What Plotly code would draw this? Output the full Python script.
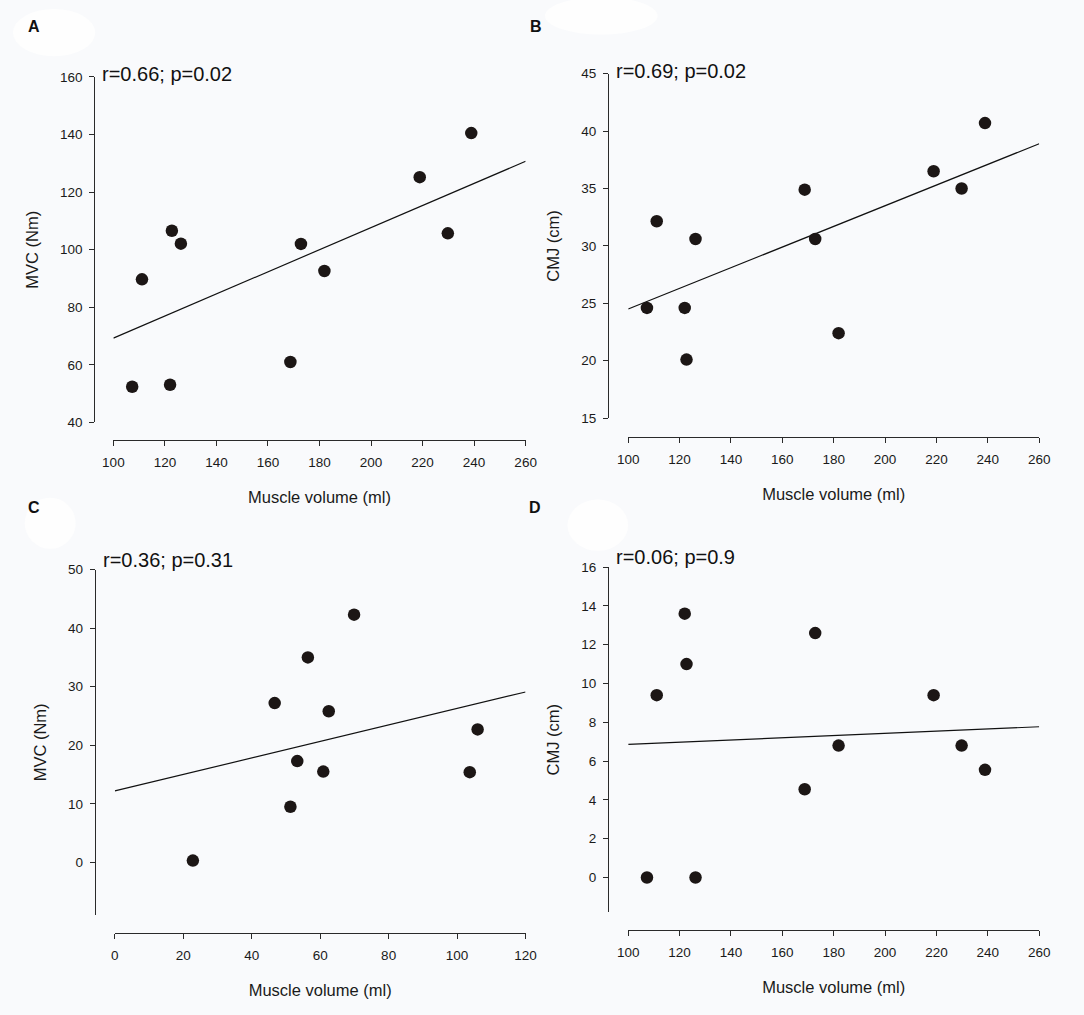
import plotly.graph_objects as go

# muscle volume (ml) shared by panels A, B, D
vol_abd = [107.3, 111.1, 122.0, 122.7, 126.2, 168.7, 172.8, 181.9, 218.9, 229.8, 238.9]
mvc_a = [52.4, 89.7, 53.1, 106.6, 102.1, 61.0, 102.0, 92.6, 125.2, 105.7, 140.5]
cmj_b = [24.6, 32.15, 24.6, 20.1, 30.6, 34.9, 30.6, 22.4, 36.5, 35.0, 40.7]
cmj_d = [0.0, 9.4, 13.6, 11.0, 0.0, 4.55, 12.6, 6.8, 9.4, 6.8, 5.55]

# panel C
vol_c = [22.8, 46.7, 51.3, 53.3, 56.4, 60.9, 62.5, 69.9, 103.7, 106.0]
mvc_c = [0.3, 27.2, 9.5, 17.3, 35.0, 15.5, 25.8, 42.3, 15.4, 22.7]

# regression line end points (x range, fitted y at each end)
fit_x_abd = [100, 260]
fit_x_c = [0, 120]
fit_a = [69.3, 130.7]
fit_b = [24.5, 38.9]
fit_c = [12.2, 29.1]
fit_d = [6.86, 7.77]

stats = ["r=0.66; p=0.02", "r=0.69; p=0.02", "r=0.36; p=0.31", "r=0.06; p=0.9"]
panel_tags = ["A", "B", "C", "D"]
y_titles = ["MVC (Nm)", "CMJ (cm)", "MVC (Nm)", "CMJ (cm)"]
x_title = "Muscle volume (ml)"

FONT = "Liberation Sans, Arial, sans-serif"
INK = "#1c1615"
AX = "#2a2a2a"
TXT = "#1a1a1a"
W, H = 1084, 1015

# per panel, in page pixels: x domain, y domain, y-axis x position, x-axis y position
panels = [
    dict(xs=vol_abd, ys=mvc_a, fx=fit_x_abd, fy=fit_a,
         xd=[104.5, 525.3], yd=[421.7, 71.0], yax=85.0, xax=439.0,
         xr=[100, 260], yr=[40, 160], xt=list(range(100, 261, 20)), yt=list(range(40, 161, 20))),
    dict(xs=vol_abd, ys=cmj_b, fx=fit_x_abd, fy=fit_b,
         xd=[630.0, 1049.5], yd=[417.3, 67.7], yax=609.5, xax=436.0,
         xr=[100, 260], yr=[15, 45], xt=list(range(100, 261, 20)), yt=list(range(15, 46, 5))),
    dict(xs=vol_c, ys=mvc_c, fx=fit_x_c, fy=fit_c,
         xd=[106.0, 525.2], yd=[921.7, 571.0], yax=85.5, xax=939.5,
         xr=[0, 120], yr=[-9, 50], xt=list(range(0, 121, 20)), yt=list(range(0, 51, 10))),
    dict(xs=vol_abd, ys=cmj_d, fx=fit_x_abd, fy=fit_d,
         xd=[630.0, 1049.5], yd=[919.0, 568.5], yax=609.5, xax=936.5,
         xr=[100, 260], yr=[-1.8, 16], xt=list(range(100, 261, 20)), yt=list(range(0, 17, 2))),
]

fig = go.Figure()
layout = {}
annotations = []
shapes = []

# faint white blobs behind the panel letters (as in the source image)
blobs = [(2, 2, 86, 50), (545, -10, 660, 28), (14, 498, 66, 550), (568, 500, 630, 552)]
for x0, y0, x1, y1 in blobs:
    shapes.append(dict(type="circle", xref="paper", yref="paper", layer="below",
                       x0=x0 / W, x1=x1 / W, y0=1 - y1 / H, y1=1 - y0 / H,
                       fillcolor="#fefefe", line=dict(width=0)))

for i, p in enumerate(panels, start=1):
    sfx = "" if i == 1 else str(i)
    xa, ya = f"x{sfx}", f"y{sfx}"
    fig.add_trace(go.Scatter(x=p["fx"], y=p["fy"], mode="lines", xaxis=xa, yaxis=ya,
                             line=dict(color="#111111", width=1.2), showlegend=False,
                             hoverinfo="skip"))
    fig.add_trace(go.Scatter(x=p["xs"], y=p["ys"], mode="markers", xaxis=xa, yaxis=ya,
                             marker=dict(size=12.5, color=INK), showlegend=False))
    common = dict(showline=True, linecolor=AX, linewidth=1.3, ticks="outside",
                  ticklen=5, tickwidth=1.3, tickcolor=AX, showgrid=False, zeroline=False,
                  tickfont=dict(family=FONT, size=13.5, color=TXT))
    layout[f"xaxis{sfx}"] = dict(
        common, domain=[p["xd"][0] / W, p["xd"][1] / W], range=p["xr"],
        tickmode="array", tickvals=p["xt"], anchor="free", position=1 - p["xax"] / H,
        ticklabelstandoff=5,
        title=dict(text=x_title, font=dict(family=FONT, size=16.5, color=TXT), standoff=22))
    layout[f"yaxis{sfx}"] = dict(
        common, domain=[1 - p["yd"][0] / H, 1 - p["yd"][1] / H], range=p["yr"],
        tickmode="array", tickvals=p["yt"], anchor="free", position=p["yax"] / W,
        ticklabelstandoff=4,
        title=dict(text=y_titles[i - 1], font=dict(family=FONT, size=16.5, color=TXT),
                   standoff=16))
    # correlation text just above the top of the y axis
    top_off = 3 if i in (1, 2) else 10
    annotations.append(dict(xref="paper", yref="paper", x=(p["yax"] + 6) / W,
                            y=1 - (p["yd"][1] - top_off) / H, xanchor="left", yanchor="middle",
                            text=stats[i - 1], showarrow=False,
                            font=dict(family=FONT, size=20, color="#111111")))

tag_pos = [(15, 20), (528, 20), (15, 508), (527, 508)]
for tag, (tx, ty) in zip(panel_tags, tag_pos):
    annotations.append(dict(xref="paper", yref="paper", x=tx / W, y=1 - ty / H,
                            xanchor="left", yanchor="middle", text=f"<b>{tag}</b>",
                            showarrow=False, font=dict(family=FONT, size=16, color="#111111")))

fig.update_layout(
    width=W, height=H,
    margin=dict(l=0, r=0, t=0, b=0),
    paper_bgcolor="#f9fafc", plot_bgcolor="rgba(0,0,0,0)",
    annotations=annotations, shapes=shapes,
    **layout,
)

# drop the browser's default body margin so the figure fills the window exactly
fig.write_html("out.html", config={"displayModeBar": False},
               post_script="document.body.style.margin='0px';")
